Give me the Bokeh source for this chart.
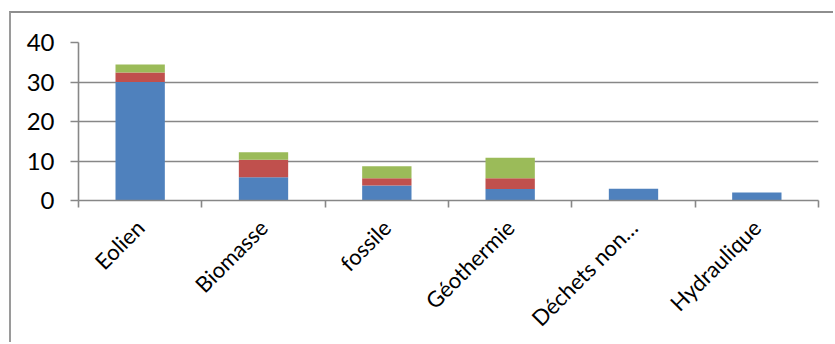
from bokeh.plotting import figure
from bokeh.models import ColumnDataSource, FixedTicker, Range1d
from bokeh.embed import file_html
from bokeh.resources import INLINE

# Energy sources and the three stacked series
categories = ["Eolien", "Biomasse", "fossile", "Géothermie", "Déchets non…", "Hydraulique"]
serie1 = [30.0, 5.9, 3.8, 2.9, 3.0, 2.0]
serie2 = [2.4, 4.4, 1.85, 2.75, 0.0, 0.0]
serie3 = [2.0, 1.9, 3.0, 5.15, 0.0, 0.0]
y_ticks = [0, 10, 20, 30, 40]

series = ["serie1", "serie2", "serie3"]
colors = ["#4F81BD", "#C0504D", "#9BBB59"]
positions = [i + 0.5 for i in range(len(categories))]

source = ColumnDataSource(data=dict(
    x=positions, serie1=serie1, serie2=serie2, serie3=serie3, cat=categories,
))

FONT = "Lato"
GRID = "#878787"

p = figure(
    width=824, height=331,
    x_range=Range1d(0, len(categories)), y_range=Range1d(0, 40),
    output_backend="svg", toolbar_location=None, tools="",
    min_border_left=67, min_border_right=17, min_border_top=29, min_border_bottom=144,
)
p.styles = {
    "margin-left": "9px", "margin-top": "11px",
    "border-left": "2px solid #9a9a9a", "border-top": "2px solid #8e8e8e",
}
p.outline_line_color = None
p.background_fill_color = "white"
p.border_fill_color = "white"

p.vbar_stack(series, x="x", width=0.4, color=colors, line_color=None, source=source)

# horizontal gridlines
p.xgrid.visible = False
p.ygrid.ticker = FixedTicker(ticks=y_ticks)
p.ygrid.grid_line_color = GRID
p.ygrid.grid_line_width = 1.6

# y axis
p.yaxis.ticker = FixedTicker(ticks=y_ticks)
p.yaxis.axis_line_color = GRID
p.yaxis.axis_line_width = 1.6
p.yaxis.major_tick_line_color = GRID
p.yaxis.major_tick_line_width = 1.6
p.yaxis.major_tick_out = 8
p.yaxis.major_tick_in = 0
p.yaxis.minor_tick_line_color = None
p.yaxis.major_label_standoff = 16
p.yaxis.major_label_text_font = FONT
p.yaxis.major_label_text_font_size = "24px"
p.yaxis.major_label_text_color = "black"

# x axis: labels at category centres, tick marks at category boundaries
p.xaxis.ticker = FixedTicker(ticks=positions, minor_ticks=list(range(len(categories) + 1)))
p.xaxis.major_label_overrides = {pos: cat for pos, cat in zip(positions, categories)}
p.xaxis.major_tick_line_color = None
p.xaxis.major_tick_out = 7
p.xaxis.minor_tick_line_color = GRID
p.xaxis.minor_tick_line_width = 1.6
p.xaxis.minor_tick_out = 7
p.xaxis.minor_tick_in = 0
p.xaxis.axis_line_color = GRID
p.xaxis.axis_line_width = 1.6
p.xaxis.major_label_orientation = 0.7854
p.xaxis.major_label_standoff = 16
p.xaxis.major_label_text_font = FONT
p.xaxis.major_label_text_font_size = "22px"
p.xaxis.major_label_text_color = "black"

open("out.html", "w").write(file_html(p, INLINE))
